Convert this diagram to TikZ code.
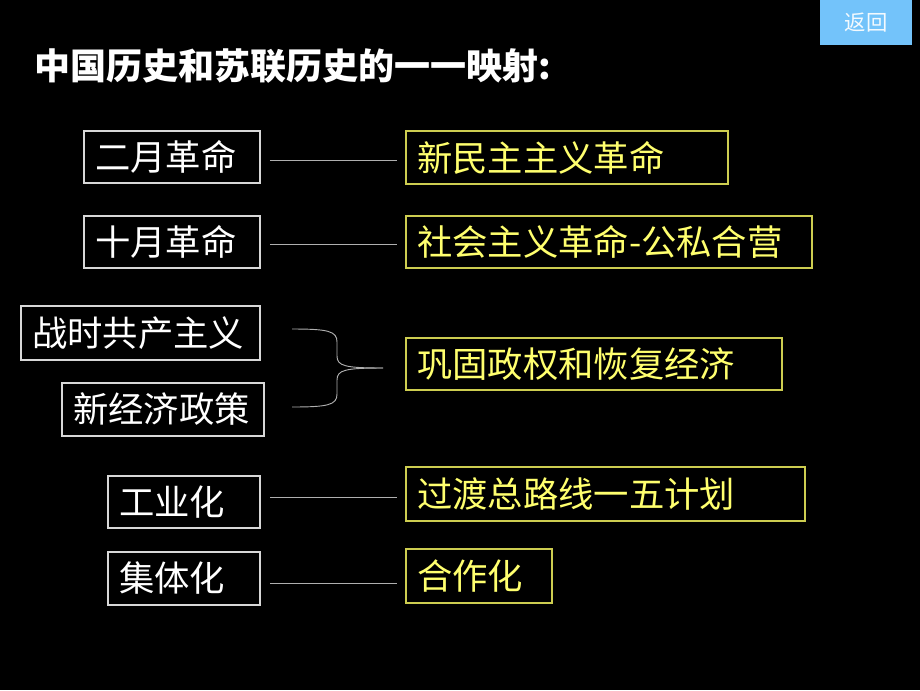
\documentclass[tikz,border=0pt]{standalone}
\usepackage{fontspec}
\newfontfamily\cjk{Noto Sans CJK SC}
\definecolor{ybox}{RGB}{205,205,80}
\definecolor{ytxt}{RGB}{255,255,110}
\definecolor{wbox}{RGB}{215,215,215}
\definecolor{btn}{RGB}{115,195,250}
\definecolor{conn}{RGB}{175,175,175}
\begin{document}
\begin{tikzpicture}[x=0.75pt,y=-0.75pt,
  lbox/.style={draw=wbox, line width=0.9pt, text=white, inner xsep=8.25pt, inner ysep=0pt, align=left, font=\cjk\fontsize{26.5}{30}\selectfont},
  rbox/.style={draw=ybox, line width=0.9pt, text=ytxt, inner xsep=8.25pt, inner ysep=0pt, align=left, font=\cjk\fontsize{26.5}{30}\selectfont},
  link/.style={draw=conn, line width=0.7pt, shorten <=7pt, shorten >=6.5pt}]
\fill[black] (0,0) rectangle (920,690);
\useasboundingbox (0,0) rectangle (920,690);
% return button
\node[fill=btn, minimum width=69pt, minimum height=33.75pt, inner sep=0pt, text=white!92!btn, font=\cjk\fontsize{16}{18}\selectfont] (ret) at (866,22.5) {返回};
% title
\node[anchor=west, text=white, inner sep=0pt, font=\cjk\bfseries\fontsize{27}{30}\selectfont] (title) at (34,66) {中国历史和苏联历史的一一映射:};
% left boxes
\node[lbox, text width=115.5pt, minimum height=39pt] (l1) at (172,157) {二月革命};
\node[lbox, text width=115.5pt, minimum height=39pt] (l2) at (172,242) {十月革命};
\node[lbox, text width=162.75pt, minimum height=40.5pt] (l3a) at (140.5,333) {战时共产主义};
\node[lbox, text width=135pt, minimum height=39.75pt] (l3b) at (163,409.5) {新经济政策};
\node[lbox, text width=97.5pt, minimum height=39pt] (l4) at (184,502) {工业化};
\node[lbox, text width=97.5pt, minimum height=39.75pt] (l5) at (184,578.5) {集体化};
% right boxes
\node[rbox, text width=225pt, minimum height=39.75pt] (r1) at (567,157.5) {新民主主义革命};
\node[rbox, text width=288pt, minimum height=39pt] (r2) at (609,242) {社会主义革命-公私合营};
\node[rbox, text width=265.5pt, minimum height=39pt] (r3) at (594,364) {巩固政权和恢复经济};
\node[rbox, text width=282.75pt, minimum height=40.5pt] (r4) at (605.5,494) {过渡总路线一五计划};
\node[rbox, text width=93pt, minimum height=40.5pt] (r5) at (479,576) {合作化};
% connectors
\draw[link] ([yshift=-2.25pt]l1.east) -- ([yshift=-2.25pt]l1.east -| r1.west);
\draw[link] ([yshift=-1.5pt]l2.east) -- ([yshift=-1.5pt]l2.east -| r2.west);
\draw[link] ([yshift=3.75pt]l4.east) -- ([yshift=3.75pt]l4.east -| r4.west);
\draw[link] ([yshift=-3.75pt]l5.east) -- ([yshift=-3.75pt]l5.east -| r5.west);
% brace
\coordinate (bt) at (292,329);
\coordinate (bb) at (292,407);
\coordinate (tip) at (383,368);
\draw[draw=conn, line width=0.7pt]
  (bt) .. controls (328,329) and (337,331) .. (337,342) -- (337,356)
  .. controls (337,366) and (345,368) .. (tip);
\draw[draw=conn, line width=0.7pt]
  (bb) .. controls (328,407) and (337,405) .. (337,394) -- (337,380)
  .. controls (337,370) and (345,368) .. (tip);
\end{tikzpicture}
\end{document}
